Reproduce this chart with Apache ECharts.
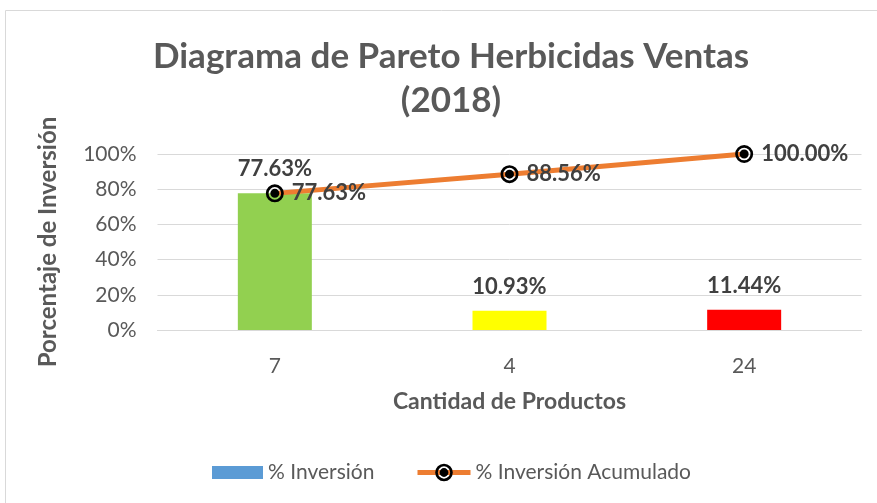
<!DOCTYPE html>
<html>
<head>
<meta charset="utf-8">
<script src="https://cdn.jsdelivr.net/npm/echarts@6/dist/echarts.min.js"></script>
<style>
  html, body { margin: 0; padding: 0; background: #fff; }
  #chart { width: 877px; height: 503px; }
</style>
</head>
<body>
<div id="chart"></div>
<script>
const categories = ['7', '4', '24']
const inversion = [77.63, 10.93, 11.44]
const acumulado = [77.63, 88.56, 100.00]
const barColors = ['#92D050', '#FFFF00', '#FF0000']
const yTicks = [0, 20, 40, 60, 80, 100]

const FONT = 'Lato, "Open Sans", sans-serif'
// black ring, clear gap, black dot
const marker = 'path://M0,10 A10,10 0 1,1 20,10 A10,10 0 1,1 0,10 Z M3,10 A7,7 0 1,0 17,10 A7,7 0 1,0 3,10 Z M5,10 A5,5 0 1,1 15,10 A5,5 0 1,1 5,10 Z'

const chart = echarts.init(document.getElementById('chart'))
const legendText = { fontFamily: FONT, fontSize: 21, color: '#595959' }
const option = {
  animation: false,
  textStyle: { fontFamily: FONT },
  graphic: [{
    type: 'rect',
    shape: { x: 5.5, y: 10.5, width: 900, height: 600 },
    style: { fill: 'none', stroke: '#d9d9d9', lineWidth: 1 },
    silent: true
  }],
  title: {
    text: 'Diagrama de Pareto Herbicidas Ventas\n(2018)',
    left: 446,
    top: 30,
    textAlign: 'center',
    textStyle: { fontFamily: FONT, fontSize: 35, fontWeight: 'bold', color: '#595959', lineHeight: 44 }
  },
  legend: [
    {
      left: 207,
      top: 457,
      itemWidth: 51,
      itemHeight: 13,
      itemGap: 6,
      textStyle: legendText,
      data: [{ name: '% Inversión', icon: 'rect', itemStyle: { color: '#5B9BD5' } }]
    },
    {
      left: 410,
      top: 457,
      itemWidth: 53,
      itemHeight: 22,
      textStyle: legendText,
      lineStyle: { width: 5 },
      data: [{ name: '% Inversión Acumulado' }]
    }
  ],
  grid: { left: 157.5, right: 15.5, top: 154, bottom: 173 },
  xAxis: {
    type: 'category',
    data: categories,
    name: 'Cantidad de Productos',
    nameLocation: 'middle',
    nameGap: 60,
    nameTextStyle: { fontFamily: FONT, fontSize: 23, fontWeight: 'bold', color: '#595959' },
    axisLine: { lineStyle: { color: '#d9d9d9' } },
    axisTick: { show: false },
    axisLabel: { fontFamily: FONT, fontSize: 21, color: '#595959', margin: 26 }
  },
  yAxis: {
    type: 'value',
    min: yTicks[0],
    max: yTicks[yTicks.length - 1],
    interval: 20,
    name: 'Porcentaje de Inversión',
    nameLocation: 'middle',
    nameGap: 97,
    nameTextStyle: { fontFamily: FONT, fontSize: 24, fontWeight: 'bold', color: '#595959' },
    axisLine: { show: false },
    axisTick: { show: false },
    splitLine: { lineStyle: { color: '#d9d9d9' } },
    axisLabel: { fontFamily: FONT, fontSize: 21, color: '#595959', margin: 21, formatter: '{value}%' }
  },
  series: [
    {
      name: '% Inversión',
      type: 'bar',
      barWidth: 74,
      itemStyle: { color: '#5B9BD5' },
      data: inversion.map((v, i) => ({ value: v, itemStyle: { color: barColors[i] } })),
      label: {
        show: true,
        position: 'top',
        distance: 13,
        fontFamily: FONT,
        fontSize: 22,
        fontWeight: 'bold',
        color: '#404040',
        formatter: p => p.value.toFixed(2) + '%'
      }
    },
    {
      name: '% Inversión Acumulado',
      type: 'line',
      data: acumulado,
      symbol: marker,
      symbolSize: 18,
      showAllSymbol: true,
      itemStyle: { color: '#000' },
      lineStyle: { color: '#ED7D31', width: 5 },
      label: {
        show: true,
        position: 'right',
        distance: 8,
        fontFamily: FONT,
        fontSize: 22,
        fontWeight: 'bold',
        color: '#404040',
        formatter: p => p.value.toFixed(2) + '%'
      }
    }
  ]
}
chart.setOption(option)
</script>
</body>
</html>
